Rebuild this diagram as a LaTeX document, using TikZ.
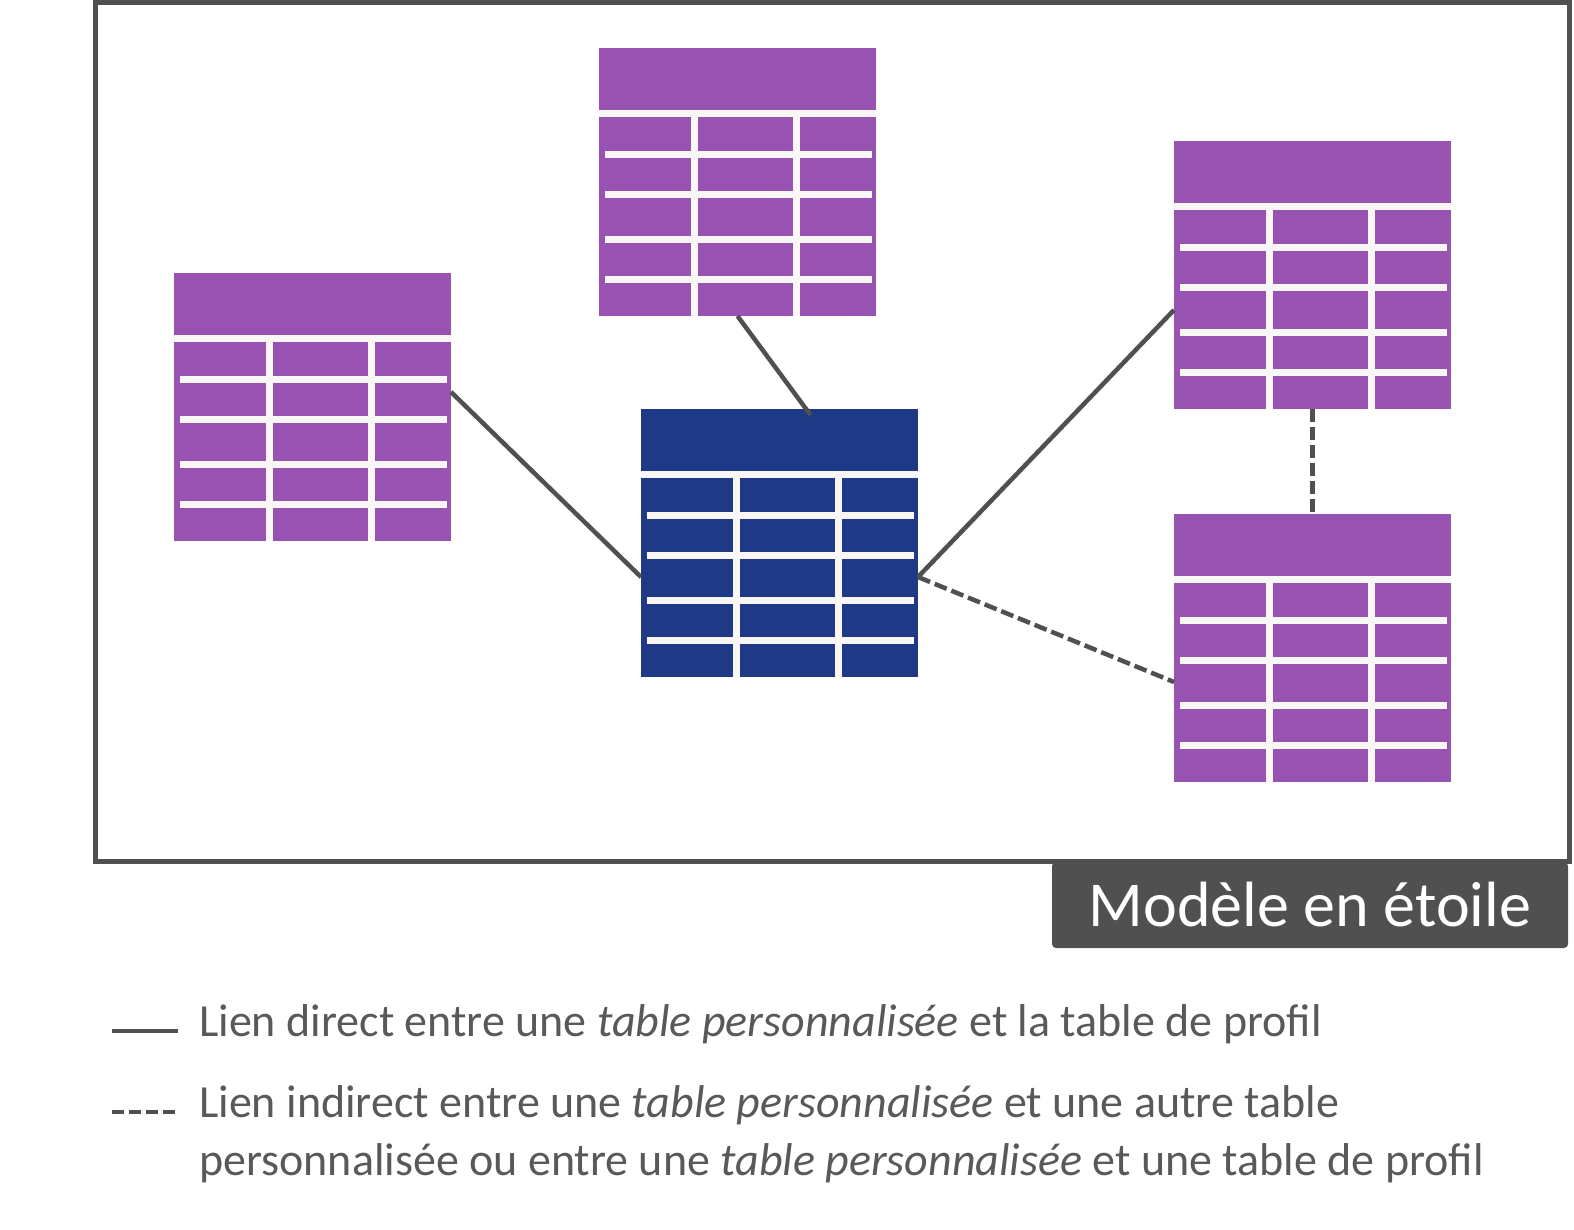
\documentclass[tikz,border=0pt]{standalone}
\usepackage{fontspec}
\setmainfont{Carlito}
\usetikzlibrary{calc}
\definecolor{tblpurple}{HTML}{9852B2}
\definecolor{tblblue}{HTML}{1E3A87}
\definecolor{linkgray}{HTML}{505050}
\definecolor{textgray}{HTML}{595959}
\definecolor{gridwhite}{HTML}{F8F7F5}

% table icon: name, top-left x, top-left y, colour
\newcommand{\dbtable}[4]{%
  \node[tbl, fill=#4, anchor=north west] (#1) at (#2, #3) {};
  \begin{scope}[shift={(#2, #3)}]
    \fill[gridwhite] (0, 62) rectangle (277, 69);
    \foreach \ry in {103, 143, 188, 228}
      \fill[gridwhite] (6, \ry) rectangle (273, \ry+7);
    \foreach \cx in {92, 194}
      \fill[gridwhite] (\cx, 69) rectangle (\cx+7, 268);
  \end{scope}
}

\begin{document}
\begin{tikzpicture}[x=1pt, y=-1pt,
    tbl/.style={minimum width=277pt, minimum height=268pt, inner sep=0pt, outer sep=0pt},
    link/.style={line width=4.5pt, color=linkgray},
    dlink/.style={link, dash pattern=on 13pt off 5pt},
    legend/.style={font=\fontsize{46}{58}\selectfont, text=textgray, align=left, inner sep=0pt},
]
  \useasboundingbox (0, 0) rectangle (1574, 1230);

  % === Frame and caption ===
  \draw[linkgray, line width=5pt] (95.5, 2.5) rectangle (1569.5, 861.5);
  \node[fill=linkgray, rounded corners=4pt, minimum width=516pt, minimum height=86pt,
    text=white, font=\fontsize{64}{70}\selectfont] (caption) at (1310, 905) {Modèle en étoile};

  % === Tables ===
  \dbtable{top}{599}{48}{tblpurple}
  \dbtable{lt}{174}{273}{tblpurple}
  \dbtable{ctr}{641}{409}{tblblue}
  \dbtable{rt}{1174}{141}{tblpurple}
  \dbtable{rb}{1174}{514}{tblpurple}

  % === Links ===
  \draw[link] ($(lt.east)+(0, -15)$) -- ($(ctr.west)+(0, 34)$);
  \draw[link] (top.south) -- ($(ctr.north)+(31, 6)$);
  \draw[link] ($(ctr.east)+(0, 34)$) -- ($(rt.west)+(0, 35)$);
  \draw[dlink] ($(ctr.east)+(0, 34)$) -- ($(rb.west)+(0, 34)$);
  \draw[dlink] (rt.south) -- (rb.north);

  % === Legend ===
  \coordinate (sa) at (112, 1031);
  \coordinate (sb) at (178, 1031);
  \coordinate (da) at (112, 1112);
  \coordinate (db) at (178, 1112);
  \draw[link, line width=4pt] (sa) -- (sb);
  \draw[dlink, line width=4pt, dash pattern=on 12pt off 5pt] (da) -- (db);
  \node[legend, anchor=base west] (legdirect) at (199, 1036)
    {Lien direct entre une \textit{table personnalisée} et la table de profil};
  % base anchor sits on the last line
  \node[legend, anchor=base west] (legindirect) at (199, 1175)
    {Lien indirect entre une \textit{table personnalisée} et une autre table\\
     personnalisée ou entre une \textit{table personnalisée} et une table de profil};
\end{tikzpicture}
\end{document}
